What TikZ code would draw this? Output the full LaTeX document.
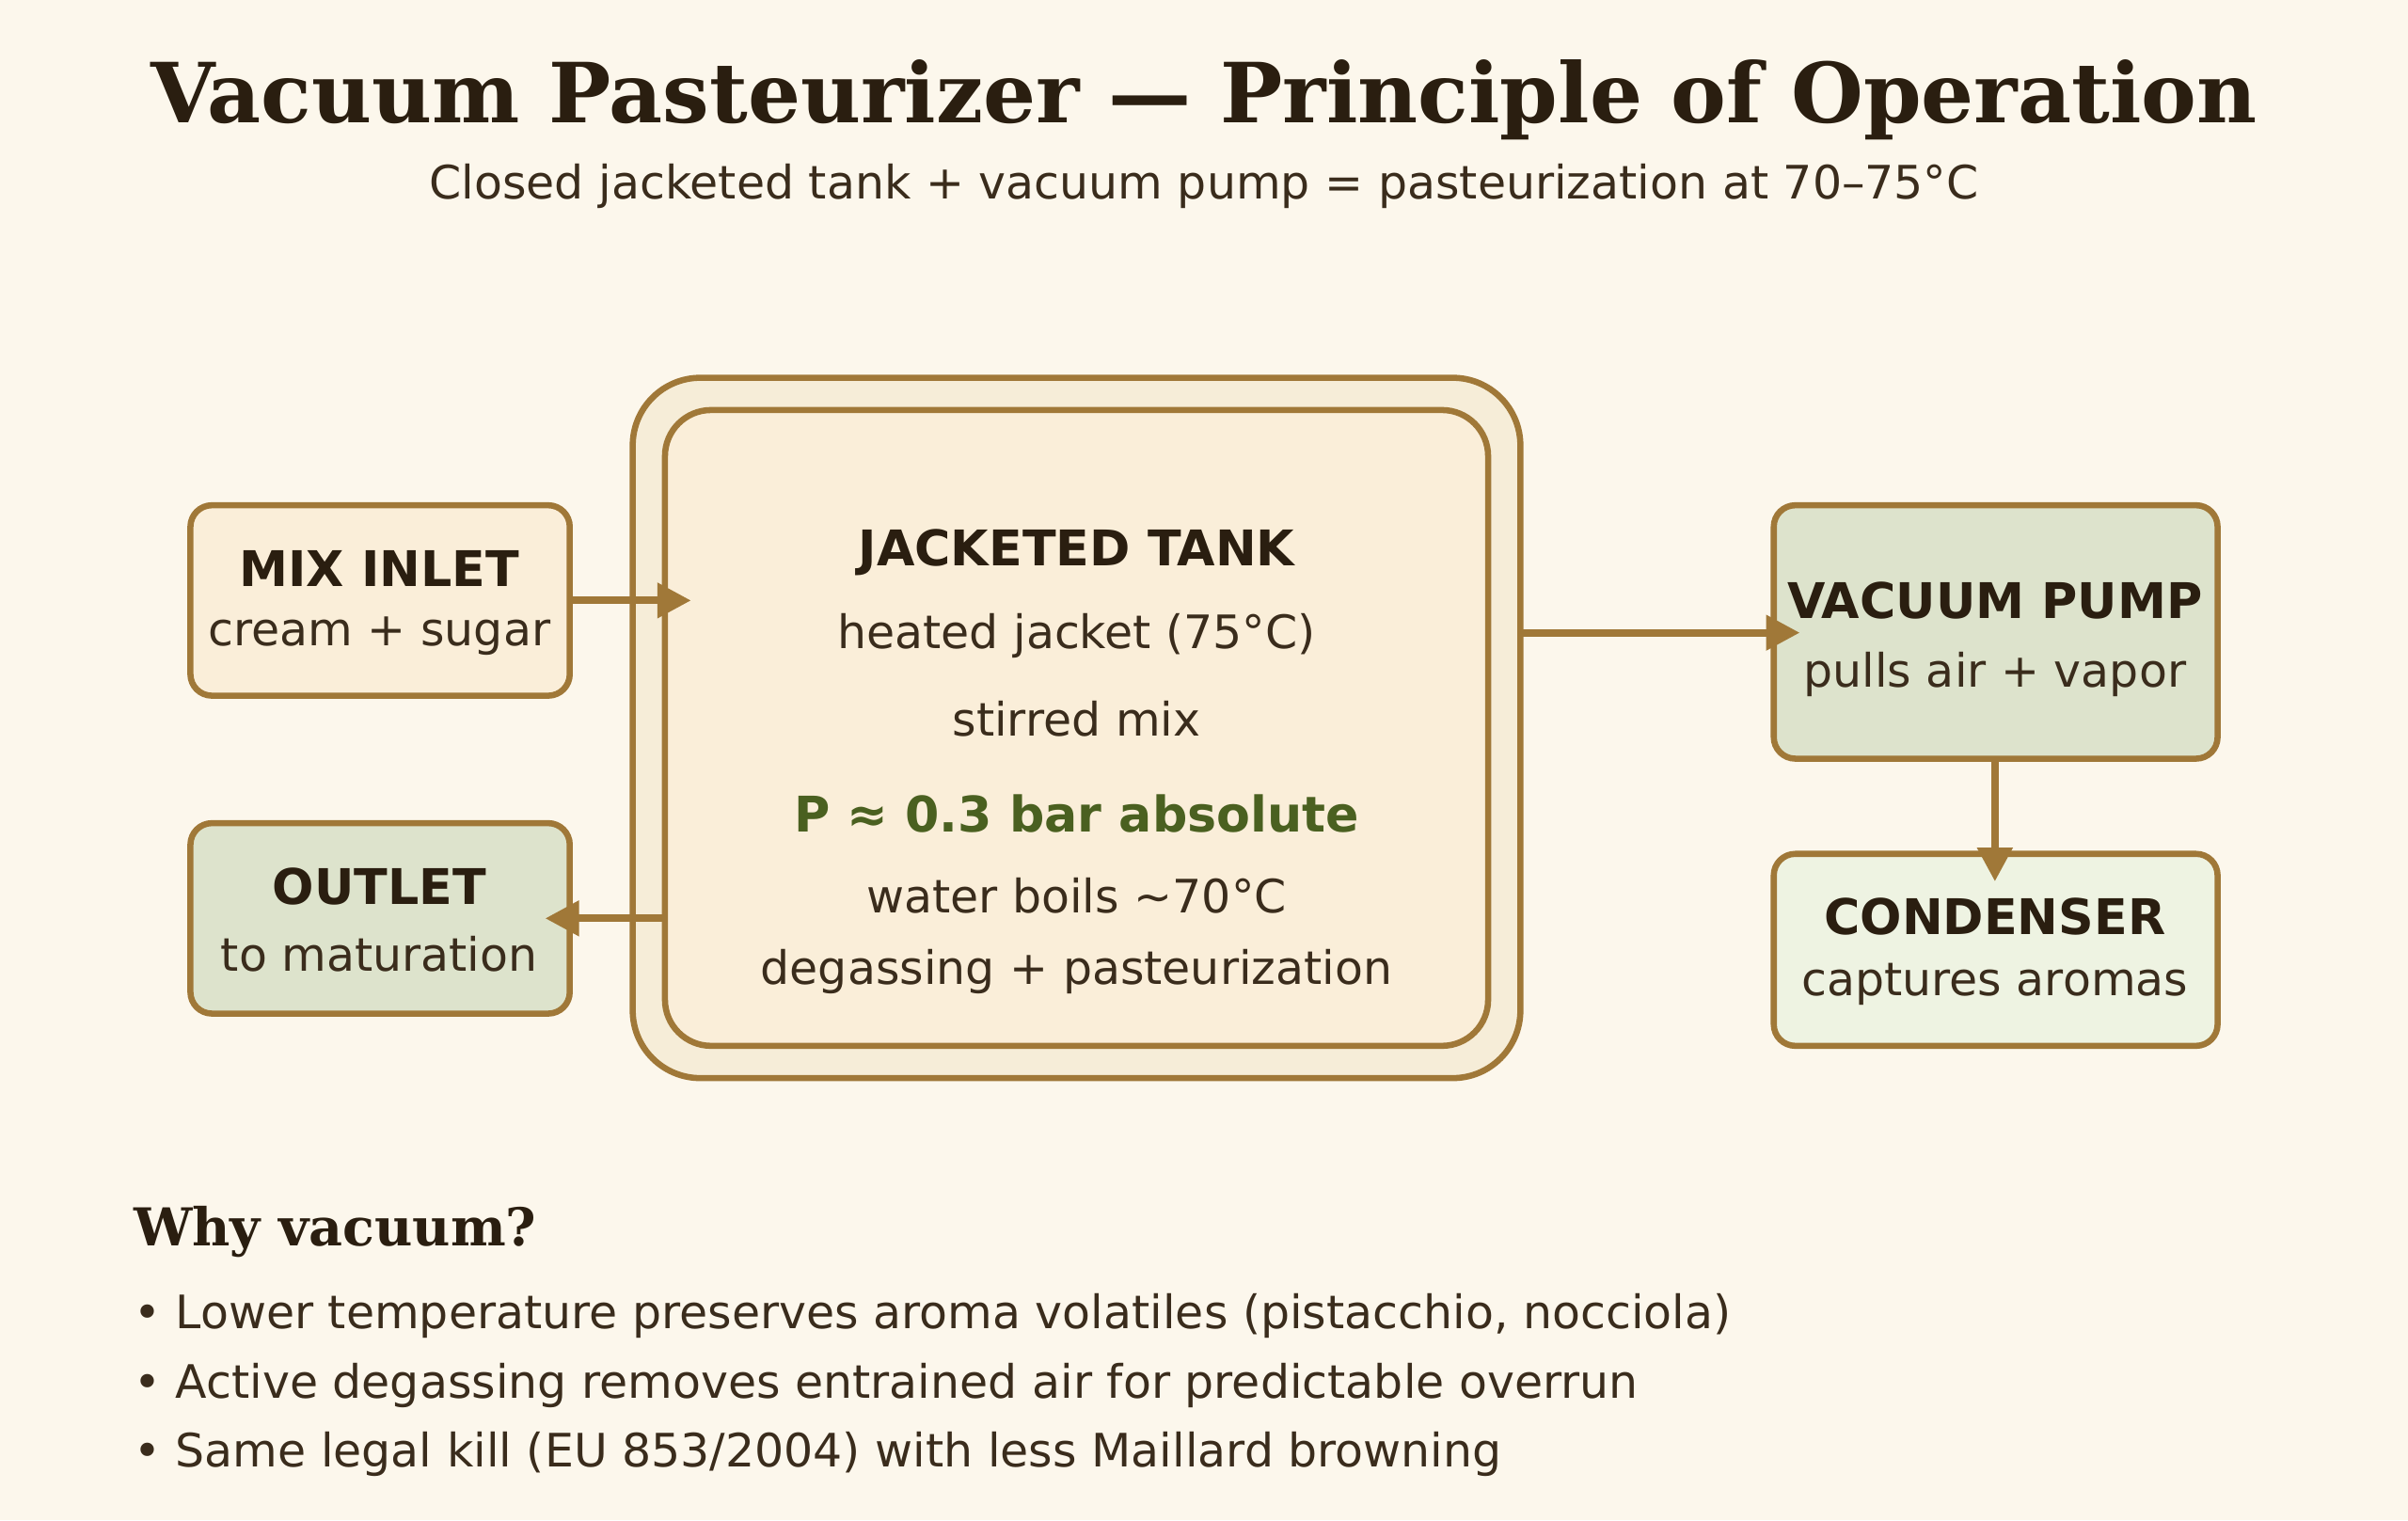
\documentclass[tikz,border=0pt]{standalone}
\usepackage{fontspec}
\setmainfont{DejaVu Sans}
\newfontfamily\serifb{DejaVu Serif}
\usetikzlibrary{arrows.meta}
\definecolor{bg}{HTML}{FCF7EC}
\definecolor{brd}{HTML}{A07838}
\definecolor{outerf}{HTML}{F6EDD8}
\definecolor{innerf}{HTML}{FAEED9}
\definecolor{greenf}{HTML}{DDE3CC}
\definecolor{condf}{HTML}{EEF3E2}
\definecolor{gtxt}{HTML}{4A6020}
\definecolor{dtxt}{HTML}{2A1E10}
\definecolor{btxt}{HTML}{3A2C1C}
\begin{document}
\begin{tikzpicture}[x=0.5pt,y=-0.5pt,
  box/.style={draw=brd,line width=2pt,rounded corners=7pt},
  hd/.style={font=\fontsize{16}{18}\selectfont\bfseries,text=dtxt},
  bd/.style={font=\fontsize{15}{17}\selectfont,text=btxt},
  arr/.style={draw=brd,line width=2.5pt,-{Triangle[length=11pt,width=11pt]}}]
\fill[bg] (0,0) rectangle (1568,990);
\useasboundingbox (0,0) rectangle (1568,990);
\node[font=\serifb\fontsize{27}{30}\selectfont\bfseries,text=dtxt] (title) at (784,65) {Vacuum Pasteurizer — Principle of Operation};
\node[bd] (sub) at (784,121) {Closed jacketed tank + vacuum pump = pasteurization at 70–75°C};
% tank
\draw[box,fill=outerf,rounded corners=22pt] (412,246) rectangle (990,702);
\draw[box,fill=innerf,rounded corners=15pt] (433,267) rectangle (969,681);
\coordinate (tankR) at (990,412);
\node[hd] (t1) at (701,360) {JACKETED TANK};
\node[bd] (t2) at (701,414) {heated jacket (75°C)};
\node[bd] (t3) at (701,468) {stirred mix};
\node[font=\fontsize{16}{18}\selectfont\bfseries,text=gtxt] (t4) at (701,530) {P ≈ 0.3 bar absolute};
\node[bd] (t5) at (701,583) {water boils \textasciitilde70°C};
\node[bd] (t6) at (701,633) {degassing + pasteurization};
% boxes
\draw[box,fill=innerf] (124,329) rectangle (371,453);
\node[hd] (mi) at (247,370) {MIX INLET};
\node[bd] (mi2) at (247,414) {cream + sugar};
\draw[box,fill=greenf] (124,536) rectangle (371,660);
\node[hd] (ou) at (247,577) {OUTLET};
\node[bd] (ou2) at (247,621) {to maturation};
\draw[box,fill=greenf] (1155,329) rectangle (1444,494);
\node[hd] (vp) at (1299,391) {VACUUM PUMP};
\node[bd] (vp2) at (1299,439) {pulls air + vapor};
\draw[box,fill=condf] (1155,556) rectangle (1444,681);
\node[hd] (cd) at (1299,597) {CONDENSER};
\node[bd] (cd2) at (1299,641) {captures aromas};
% connectors
\coordinate (a1s) at (371,391); \coordinate (a1e) at (450,391);
\coordinate (a2s) at (433,598); \coordinate (a2e) at (355,598);
\coordinate (a3e) at (1172,412);
\coordinate (a4s) at (1299,494); \coordinate (a4e) at (1299,574);
\draw[arr] (a1s) -- (a1e);
\draw[arr] (a2s) -- (a2e);
\draw[arr] (tankR) -- (a3e);
\draw[arr] (a4s) -- (a4e);
% notes
\node[anchor=west,font=\serifb\fontsize{17}{20}\selectfont\bfseries,text=dtxt] (why) at (80,802) {Why vacuum?};
\node[anchor=west,bd] (b1) at (80,857) {• Lower temperature preserves aroma volatiles (pistacchio, nocciola)};
\node[anchor=west,bd] (b2) at (80,902) {• Active degassing removes entrained air for predictable overrun};
\node[anchor=west,bd] (b3) at (80,947) {• Same legal kill (EU 853/2004) with less Maillard browning};
\end{tikzpicture}
\end{document}
